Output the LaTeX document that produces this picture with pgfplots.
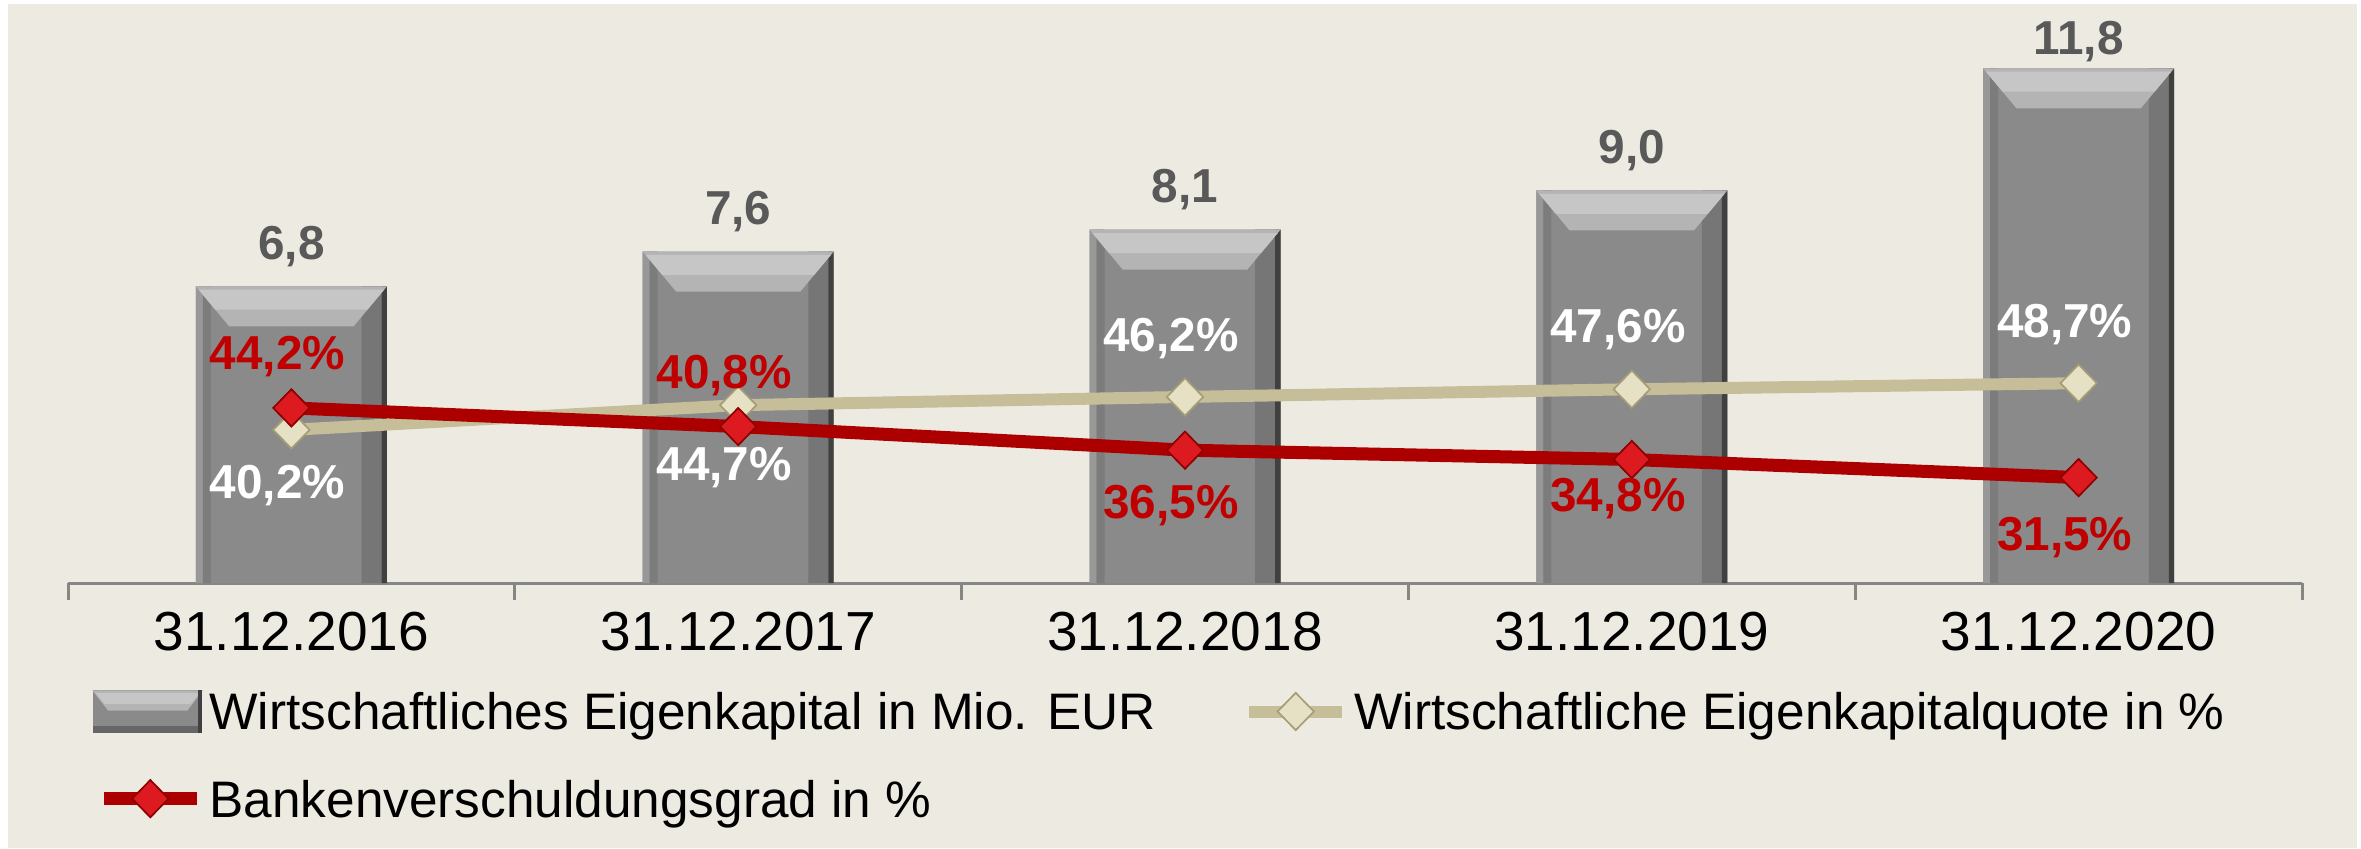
\documentclass[border=0pt]{standalone}
\usepackage{fontspec}
\setmainfont{Liberation Sans}
\usepackage{pgfplots}
\usepackage{pgfplotstable}
\pgfplotsset{compat=1.18}

\definecolor{bg}{RGB}{237,235,225}
\definecolor{axisgray}{RGB}{134,134,134}
\definecolor{barM}{RGB}{138,138,138}
\definecolor{barLs}{RGB}{152,152,152}
\definecolor{barLd}{RGB}{124,124,124}
\definecolor{barRz}{RGB}{118,118,118}
\definecolor{barEdge}{RGB}{64,64,64}
\definecolor{barTopA}{RGB}{198,198,198}
\definecolor{barTopB}{RGB}{180,180,180}
\definecolor{barR2}{RGB}{102,102,102}
\definecolor{lblgray}{RGB}{89,89,89}
\definecolor{lblred}{RGB}{192,0,0}
\definecolor{linered}{RGB}{172,0,0}
\definecolor{linebeige}{RGB}{197,190,152}
\definecolor{mkred}{RGB}{220,26,32}
\definecolor{mkredD}{RGB}{140,0,0}
\definecolor{mkbeige}{RGB}{230,224,196}
\definecolor{mkbeigeD}{RGB}{165,157,118}

\pgfdeclareplotmark{bevel}{%
  \pgfpathmoveto{\pgfqpoint{-28.65pt}{0pt}}%
  \pgfpathlineto{\pgfqpoint{28.65pt}{0pt}}%
  \pgfpathlineto{\pgfqpoint{18.65pt}{-12pt}}%
  \pgfpathlineto{\pgfqpoint{-18.65pt}{-12pt}}%
  \pgfpathclose\pgfusepathqfill}
\pgfdeclareplotmark{bevelhi}{%
  \pgfpathmoveto{\pgfqpoint{-27.8pt}{-1pt}}%
  \pgfpathlineto{\pgfqpoint{27.8pt}{-1pt}}%
  \pgfpathlineto{\pgfqpoint{22.8pt}{-7pt}}%
  \pgfpathlineto{\pgfqpoint{-22.8pt}{-7pt}}%
  \pgfpathclose\pgfusepathqfill}

\pgfplotstableread{
x y off
0 6.8 13.3
1 7.6 13.3
2 8.1 13.3
3 9.0 13.3
4 11.8 9.3
}\capdata

\pgfplotstableread{
x y off
0 40.2 -15.6
1 44.7 -17.4
2 46.2 18.6
3 47.6 19.2
4 48.7 18.8
}\quotedata

\pgfplotstableread{
x y off
0 44.2 16.5
1 40.8 16.5
2 36.5 -15.3
3 34.8 -10.5
4 31.5 -16.8
}\bankdata

\pgfplotsset{
  common/.style={scale only axis, width=670.2pt, height=170.1pt,
    at={(20.4pt,79.5pt)}, anchor=south west, xmin=-0.5, xmax=4.5, clip=false},
  strip/.style 2 args={ybar, bar width=#1, bar shift=#2, draw=none},
  lineplot/.style={
    line width=#1, mark=diamond*, mark size=5.6pt,
    legend image code/.code={\draw[mark repeat=2,mark phase=2,##1] plot coordinates {(3pt,0pt) (17pt,0pt) (31pt,0pt)};},
    nodes near coords={\pgfmathprintnumber[fixed,fixed zerofill,precision=1,use comma,assume math mode=true]{\pgfplotspointmeta}\%},
    nodes near coords align=center,
    visualization depends on={\thisrow{off} \as \yoff},
  },
}

\begin{document}
\begin{tikzpicture}
\fill[white] (0,0) rectangle (708.3pt,254.4pt);
\fill[bg] (2.4pt,0pt) rectangle (707.1pt,253.2pt);
\path[use as bounding box] (0,0) rectangle (708.3pt,254.4pt);

\begin{axis}[common, ymin=0, ymax=13,
  axis x line*=bottom, axis y line=none,
  x axis line style={-, draw=axisgray, line width=0.9pt},
  xtick={0,1,2,3,4},
  xticklabels={31.12.2016,31.12.2017,31.12.2018,31.12.2019,31.12.2020},
  major tick length=0pt,
  minor xtick={-0.5,0.5,1.5,2.5,3.5,4.5},
  minor tick length=5.1pt, tick align=outside,
  tick style={draw=axisgray, line width=0.9pt},
  xticklabel style={font=\fontsize{16.5}{19}\selectfont, inner sep=0pt, text height=11.8pt, text depth=0pt, yshift=-8.1pt},
  ytick=\empty]
\addplot[strip={57.3pt}{0pt}, fill=barM,
  nodes near coords={\pgfmathprintnumber[fixed,fixed zerofill,precision=1,use comma,assume math mode=true]{\pgfplotspointmeta}},
  nodes near coords align=center,
  visualization depends on={\thisrow{off} \as \boff},
  every node near coord/.append style={yshift=\boff pt, text=lblgray,
    font=\bfseries\fontsize{14.3}{16}\selectfont, text height=10.2pt, text depth=0pt, inner sep=0pt}
] table[x=x,y=y] {\capdata};
\addplot[strip={2.1pt}{-27.6pt}, fill=barLs] table[x=x,y=y] {\capdata};
\addplot[strip={2.4pt}{-25.35pt}, fill=barLd] table[x=x,y=y] {\capdata};
\addplot[strip={6pt}{24.05pt}, fill=barRz] table[x=x,y=y] {\capdata};
\addplot[only marks, mark=bevel, mark options={fill=barTopB, draw=none}] table[x=x,y=y] {\capdata};
\addplot[only marks, mark=bevelhi, mark options={fill=barTopA, draw=none}] table[x=x,y=y] {\capdata};
\addplot[strip={1.6pt}{27.85pt}, fill=barEdge] table[x=x,y=y] {\capdata};
\end{axis}

\begin{axis}[common, hide axis, ymin=12.3, ymax=115.6,
  legend columns=2, legend cell align=left,
  legend style={at={(axis description cs:0.0112,-0.1893)}, anchor=north west,
    draw=none, fill=none, inner sep=0pt, outer sep=0pt,
    font=\fontsize{15.4}{18}\selectfont, row sep=13.8pt,
    nodes={inner sep=0.5pt, text height=11pt, text depth=0pt},
    /tikz/every even column/.append style={column sep=25.7pt},
    /tikz/every odd column/.append style={column sep=1.3pt}}]
\addlegendimage{legend image code/.code={
  \fill[barM] (0pt,-6.15pt) rectangle (32.4pt,6.15pt);
  \fill[barR2] (0pt,-6.15pt) rectangle (32.4pt,-4.5pt);
  \fill[barTopB] (0pt,6.15pt) -- (32.4pt,6.15pt) -- (28pt,0.5pt) -- (4.4pt,0.5pt) -- cycle;
  \fill[barTopA] (1pt,5.4pt) -- (31.4pt,5.4pt) -- (29pt,2.5pt) -- (3.4pt,2.5pt) -- cycle;
  \fill[barEdge] (31.6pt,-6.15pt) rectangle (32.4pt,6.15pt);}}
\addlegendentry{Wirtschaftliches Eigenkapital in Mio. EUR}

\addplot[lineplot=3.6pt, color=linebeige,
  mark options={solid, fill=mkbeige, draw=mkbeigeD, line width=0.5pt, xscale=1.3},
  every node near coord/.append style={yshift=\yoff pt, xshift=-4.2pt, text=white,
    font=\bfseries\fontsize{14.3}{16}\selectfont, text height=10.2pt, text depth=0pt, inner sep=0pt}
] table[x=x,y=y] {\quotedata};
\addlegendentry{Wirtschaftliche Eigenkapitalquote in \%}

\addplot[lineplot=3.9pt, color=linered,
  mark options={solid, fill=mkred, draw=mkredD, line width=0.5pt, xscale=1.3},
  every node near coord/.append style={yshift=\yoff pt, xshift=-4.2pt, text=lblred,
    font=\bfseries\fontsize{14.3}{16}\selectfont, text height=10.2pt, text depth=0pt, inner sep=0pt}
] table[x=x,y=y] {\bankdata};
\addlegendentry{Bankenverschuldungsgrad in \%}
\end{axis}
\end{tikzpicture}
\end{document}
